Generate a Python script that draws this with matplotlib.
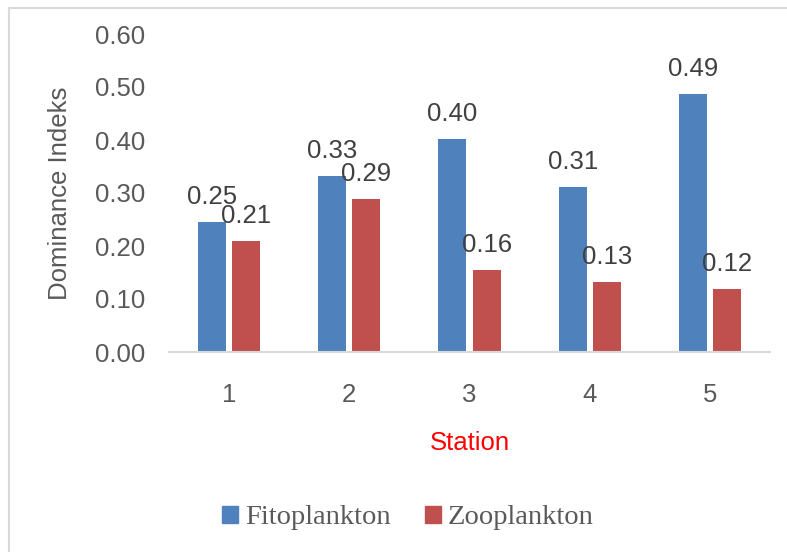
import matplotlib.pyplot as plt
import numpy as np
from matplotlib.patches import Patch
from matplotlib.lines import Line2D

stations = ["1", "2", "3", "4", "5"]
fito = [0.245, 0.333, 0.401, 0.312, 0.486]
zoo = [0.210, 0.289, 0.155, 0.133, 0.118]
fito_labels = ["0.25", "0.33", "0.40", "0.31", "0.49"]
zoo_labels = ["0.21", "0.29", "0.16", "0.13", "0.12"]
yticks = [0.0, 0.1, 0.2, 0.3, 0.4, 0.5, 0.6]

blue = "#4F81BD"
red = "#C0504D"
grey = "#595959"

plt.rcParams["font.family"] = ["Liberation Sans", "DejaVu Sans"]

fig = plt.figure(figsize=(7.87, 5.52), dpi=100)
ax = fig.add_axes([169 / 787, 1 - 352 / 552, 601 / 787, 318 / 552])

x = np.arange(1, len(stations) + 1)
w = 0.232
off = 0.142
ax.bar(x - off, fito, w, color=blue)
ax.bar(x + off, zoo, w, color=red)

for xi, v, t in zip(x - off, fito, fito_labels):
    ax.annotate(t, (xi, v), xytext=(0, 25), textcoords="offset pixels",
                ha="center", va="center", fontsize=18.5, color="#404040")
for xi, v, t in zip(x + off, zoo, zoo_labels):
    ax.annotate(t, (xi, v), xytext=(0, 25), textcoords="offset pixels",
                ha="center", va="center", fontsize=18.5, color="#404040")

ax.set_xlim(0.5, 5.5)
ax.set_ylim(0, 0.6)
ax.set_xticks(x)
ax.set_xticklabels(stations)
ax.set_yticks(yticks)
ax.set_yticklabels([f"{v:.2f}" for v in yticks])
ax.tick_params(axis="both", length=0, labelsize=18.5, labelcolor=grey)
ax.tick_params(axis="y", pad=17)
ax.tick_params(axis="x", pad=22)
for s in ["left", "right", "top"]:
    ax.spines[s].set_visible(False)
ax.spines["bottom"].set_color("#D9D9D9")
ax.spines["bottom"].set_linewidth(1.5)

ax.set_ylabel("Dominance Indeks", fontsize=18.5, color=grey, labelpad=17)
fig.text(470 / 787, 1 - 443 / 552, "Station", fontsize=18.5, color="red",
         ha="center", va="center")

handles = [Patch(color=blue, label="Fitoplankton"),
           Patch(color=red, label="Zooplankton")]
fig.legend(handles=handles, loc="center", bbox_to_anchor=(408 / 787, 1 - 518 / 552),
           ncol=2, frameon=False, handlelength=0.55, handleheight=0.55,
           handletextpad=0.25, columnspacing=1.2,
           prop={"family": "Liberation Serif", "size": 20.5}, labelcolor=grey)

# chart border (left and top edges only are visible)
fig.add_artist(Line2D([8.5 / 787, 8.5 / 787], [0, 1 - 7.5 / 552],
                      transform=fig.transFigure, color="#D9D9D9", lw=1.5))
fig.add_artist(Line2D([8.5 / 787, 1], [1 - 7.5 / 552, 1 - 7.5 / 552],
                      transform=fig.transFigure, color="#D9D9D9", lw=1.5))

fig.savefig("out.png", dpi=100)
